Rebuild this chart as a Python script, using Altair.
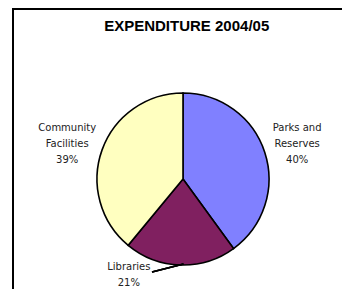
import altair as alt
import pandas as pd

categories = ["Parks and Reserves", "Libraries", "Community Facilities"]
label_lines = ["Parks and\nReserves", "Libraries", "Community\nFacilities"]
values = [40, 21, 39]
colors = ["#8080FF", "#802060", "#FFFFC0"]
title_text = "EXPENDITURE 2004/05"

df = pd.DataFrame({
    "category": categories,
    "lines": label_lines,
    "value": values,
    "idx": list(range(len(categories))),
})
df["label"] = [f"{l}\n{v}%" for l, v in zip(label_lines, values)]

CX, CY = 175, 171
theta_scale = alt.Scale(domain=[0, 100])

base = alt.Chart(df).transform_window(
    cum="sum(value)", sort=[alt.SortField("idx")], frame=[None, 0]
).transform_calculate(
    mid="datum.cum - datum.value / 2"
)

pie = alt.Chart(df).mark_arc(
    outerRadius=86, stroke="black", strokeWidth=1.6
).encode(
    theta=alt.Theta("value:Q", stack=True, scale=theta_scale),
    color=alt.Color("category:N", scale=alt.Scale(domain=categories, range=colors), legend=None),
    order=alt.Order("idx:Q"),
    x=alt.value(CX),
    y=alt.value(CY),
)

text_style = dict(font="DejaVu Sans", fontSize=10, color="#222222",
                  lineBreak="\n", lineHeight=15.7, align="center", baseline="middle")

def label_layer(cat, radius, dx, dy):
    return base.transform_filter(alt.datum.category == cat).mark_text(
        radius=radius, dx=dx, dy=dy, **text_style
    ).encode(
        theta=alt.Theta("mid:Q", scale=theta_scale),
        text="label:N",
        x=alt.value(CX),
        y=alt.value(CY),
    )

lab_parks = label_layer("Parks and Reserves", 120, 0, -13.5)
lab_comm = label_layer("Community Facilities", 122, -1, -9.5)
lab_lib = label_layer("Libraries", 100, -51, -12)

leader = alt.Chart(df).mark_rule(color="black", strokeWidth=1.4).encode(
    x=alt.value(144), y=alt.value(264), x2=alt.value(175.5), y2=alt.value(256)
)

border_left = alt.Chart(df).mark_rule(color="black", strokeWidth=2).encode(
    x=alt.value(5), y=alt.value(0), y2=alt.value(281)
)
border_top = alt.Chart(df).mark_rule(color="black", strokeWidth=2).encode(
    x=alt.value(4), x2=alt.value(334), y=alt.value(1)
)

title = alt.Chart(pd.DataFrame({"t": [title_text]})).mark_text(
    font="Liberation Sans", fontSize=15, fontWeight="bold", color="black",
    align="center", baseline="alphabetic"
).encode(text="t:N", x=alt.value(178.7), y=alt.value(22.5))

chart = alt.layer(
    pie, leader, lab_parks, lab_comm, lab_lib, title, border_left, border_top
).properties(
    width=334, height=281, padding=0, autosize=alt.AutoSizeParams(type="none")
).configure_view(stroke=None)

chart.save("out.html", embed_options={"renderer": "svg", "actions": False})
